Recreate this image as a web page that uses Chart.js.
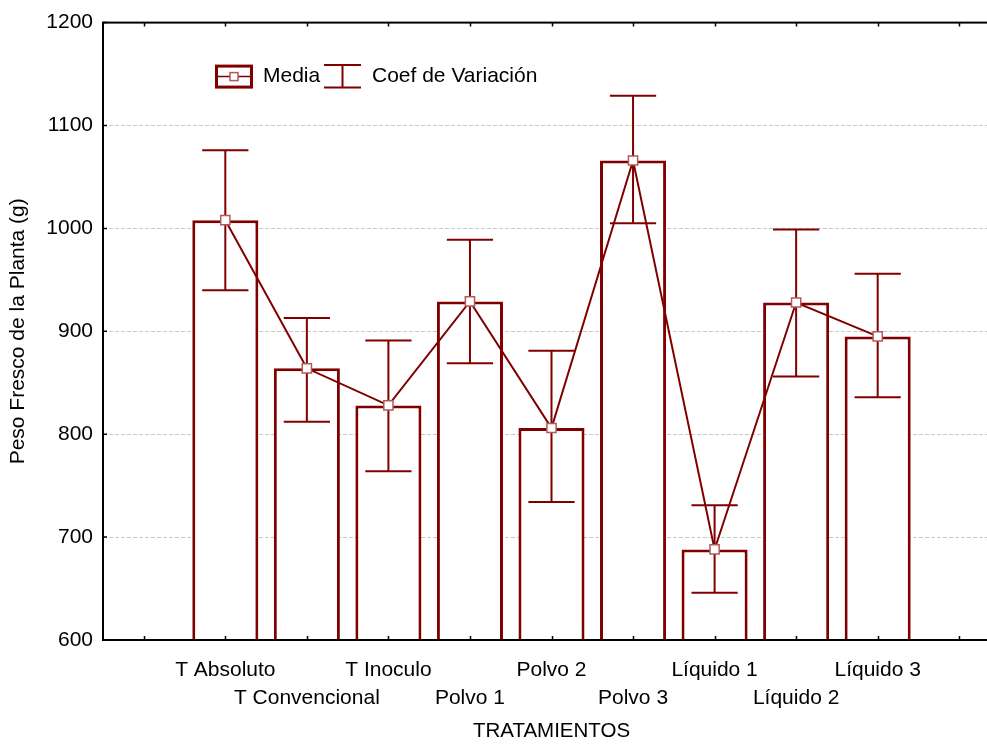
<!DOCTYPE html>
<html>
<head>
<meta charset="utf-8">
<script src="https://cdn.jsdelivr.net/npm/chart.js@4.4.1/dist/chart.umd.min.js"></script>
<style>
    html, body { margin: 0; padding: 0; background: #fff; overflow: hidden; }
    #grafico { display: block; }
</style>
</head>
<body>
<canvas id="grafico" width="1010" height="744"></canvas>
<script>
// ── Datos ──────────────────────────────────────────────────
const tratamientos = ['T Absoluto', 'T Convencional', 'T Inoculo', 'Polvo 1', 'Polvo 2', 'Polvo 3', 'Líquido 1', 'Líquido 2', 'Líquido 3'];
const medias = [1008, 864, 828, 929, 806, 1066, 688, 928, 895];
const limiteSuperior = [1076, 913, 891, 989, 881, 1129, 731, 999, 956];
const limiteInferior = [940, 812, 764, 869, 734, 1005, 646, 856, 836];
const ticksY = [600, 700, 800, 900, 1000, 1100, 1200];

const Y_MIN = 600;
const Y_MAX = 1200;
const ROJO = '#800000';
const ROJO_CLARO = '#b05a5a';
const FUENTE = "'Liberation Sans', Arial, sans-serif";

// una categoría vacía a cada lado, y etiquetas alternadas en dos filas
const etiquetas = ['', ...tratamientos.map((t, i) => i % 2 === 1 ? ['', t] : t), ''];
const conHuecos = arr => [null, ...arr, null];

// ── Plugin: barras de error, marco, ticks internos y leyenda ──
const extras = {
    id: 'extras',
    afterDatasetDraw(chart, args) {
        if (args.index !== 0) return;
        const { ctx, scales: { x, y } } = chart;
        const meta = chart.getDatasetMeta(0);
        ctx.save();
        ctx.strokeStyle = ROJO;
        ctx.lineWidth = 2;
        tratamientos.forEach((t, i) => {
            const px = x.getPixelForValue(i + 1);
            const ancho = meta.data[i + 1].width * 0.35;
            const ySup = y.getPixelForValue(limiteSuperior[i]);
            const yInf = y.getPixelForValue(limiteInferior[i]);
            ctx.beginPath();
            ctx.moveTo(px, ySup); ctx.lineTo(px, yInf);
            ctx.moveTo(px - ancho, ySup); ctx.lineTo(px + ancho, ySup);
            ctx.moveTo(px - ancho, yInf); ctx.lineTo(px + ancho, yInf);
            ctx.stroke();
        });
        ctx.restore();
    },
    afterDraw(chart) {
        const { ctx, chartArea: a, scales: { x, y } } = chart;
        ctx.save();
        // marco
        ctx.strokeStyle = '#000';
        ctx.lineWidth = 2;
        ctx.strokeRect(a.left, a.top, a.right - a.left, a.bottom - a.top);
        // ticks internos
        ctx.lineWidth = 1.5;
        ctx.beginPath();
        etiquetas.forEach((e, i) => {
            const px = Math.round(x.getPixelForValue(i)) + 0.5;
            ctx.moveTo(px, a.bottom); ctx.lineTo(px, a.bottom - 4);
            ctx.moveTo(px, a.top); ctx.lineTo(px, a.top + 4);
        });
        ticksY.forEach(v => {
            const py = y.getPixelForValue(v);
            ctx.moveTo(a.left, py); ctx.lineTo(a.left + 4, py);
            ctx.moveTo(a.right, py); ctx.lineTo(a.right - 4, py);
        });
        ctx.stroke();

        // leyenda
        const lx = a.left + 112, ly = a.top + 42;
        ctx.strokeStyle = ROJO;
        ctx.lineWidth = 3;
        ctx.strokeRect(lx + 1.5, ly + 1.5, 35, 21);
        ctx.lineWidth = 1.5;
        ctx.beginPath();
        ctx.moveTo(lx + 2, ly + 12); ctx.lineTo(lx + 36, ly + 12);
        ctx.stroke();
        ctx.fillStyle = '#fff';
        ctx.strokeStyle = ROJO_CLARO;
        ctx.fillRect(lx + 15, ly + 8, 8, 8);
        ctx.strokeRect(lx + 15, ly + 8, 8, 8);

        ctx.fillStyle = '#000';
        ctx.font = '21px ' + FUENTE;
        ctx.textBaseline = 'middle';
        ctx.textAlign = 'left';
        ctx.fillText('Media', lx + 48, ly + 12);

        const ex = lx + 109;
        ctx.strokeStyle = ROJO;
        ctx.lineWidth = 2;
        ctx.beginPath();
        ctx.moveTo(ex, ly + 0.5); ctx.lineTo(ex + 37, ly + 0.5);
        ctx.moveTo(ex, ly + 23); ctx.lineTo(ex + 37, ly + 23);
        ctx.moveTo(ex + 18.5, ly); ctx.lineTo(ex + 18.5, ly + 23);
        ctx.stroke();
        ctx.fillText('Coef de Variación', ex + 48, ly + 12);
        ctx.restore();
    }
};

new Chart(document.getElementById('grafico'), {
    data: {
        labels: etiquetas,
        datasets: [
            {
                type: 'bar',
                label: 'Media',
                data: conHuecos(medias),
                base: Y_MIN,
                backgroundColor: '#ffffff',
                borderColor: ROJO,
                borderWidth: 3,
                barPercentage: 1,
                categoryPercentage: 0.81,
                order: 1
            },
            {
                type: 'line',
                label: 'Media',
                data: conHuecos(medias),
                borderColor: ROJO,
                borderWidth: 2,
                tension: 0,
                spanGaps: false,
                pointStyle: 'rect',
                pointRadius: 6.5,
                pointBackgroundColor: '#ffffff',
                pointBorderColor: ROJO_CLARO,
                pointBorderWidth: 1.5,
                order: 0
            }
        ]
    },
    options: {
        responsive: false,
        animation: false,
        layout: { padding: { top: 22, right: 10, left: 0, bottom: 0 } },
        plugins: { legend: { display: false }, tooltip: { enabled: false } },
        scales: {
            x: {
                type: 'category',
                offset: true,
                grid: { display: false },
                border: { display: false },
                ticks: {
                    autoSkip: false, maxRotation: 0, padding: 8, color: '#000',
                    font: { family: FUENTE, size: 21, lineHeight: 1.35 }
                },
                title: {
                    display: true, text: 'TRATAMIENTOS', color: '#000',
                    font: { family: FUENTE, size: 20.5 }, padding: { top: 0, bottom: 0 }
                },
                afterFit: s => { s.height = 104; }
            },
            y: {
                min: Y_MIN,
                max: Y_MAX,
                afterBuildTicks: s => { s.ticks = ticksY.map(v => ({ value: v })); },
                grid: {
                    drawTicks: false,
                    lineWidth: 1,
                    color: c => (c.tick && (c.tick.value === Y_MIN || c.tick.value === Y_MAX)) ? 'rgba(0,0,0,0)' : '#c8c8c8'
                },
                border: { display: false, dash: [4, 2] },
                ticks: {
                    padding: 10, color: '#000', font: { family: FUENTE, size: 21 },
                    callback: v => String(v)
                },
                title: {
                    display: true, text: 'Peso Fresco de la Planta (g)', color: '#000',
                    font: { family: FUENTE, size: 21 }, padding: { top: 6, bottom: 0 }
                },
                afterFit: s => { s.width = 103; }
            }
        }
    },
    plugins: [extras]
});
</script>
</body>
</html>
